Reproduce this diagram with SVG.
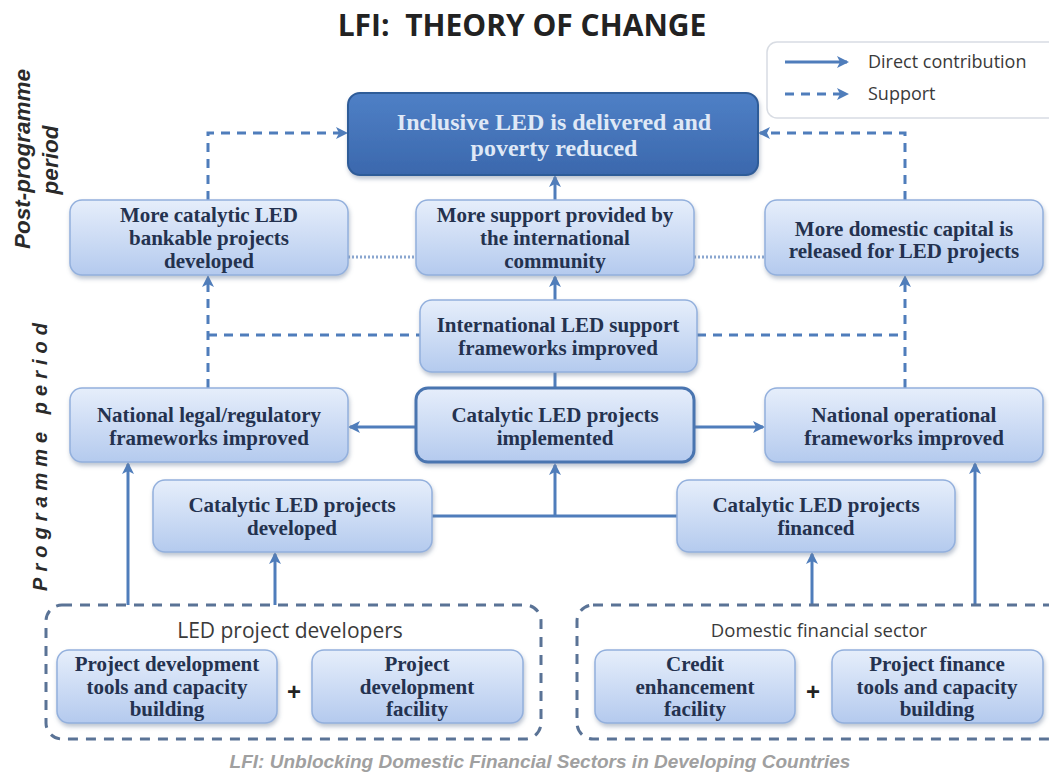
<svg xmlns="http://www.w3.org/2000/svg" width="1049" height="776" viewBox="0 0 1049 776">
<defs>
<linearGradient id="gLight" x1="0" y1="0" x2="0" y2="1">
<stop offset="0" stop-color="#e6eefb"/>
<stop offset="1" stop-color="#b4caee"/>
</linearGradient>
<linearGradient id="gDark" x1="0" y1="0" x2="0" y2="1">
<stop offset="0" stop-color="#4f80c6"/>
<stop offset="1" stop-color="#3b68ad"/>
</linearGradient>
<filter id="sh" x="-10%" y="-10%" width="120%" height="130%">
<feDropShadow dx="1" dy="3" stdDeviation="2" flood-color="#6c7f99" flood-opacity="0.45"/>
</filter>
<marker id="ah" markerWidth="12" markerHeight="12" refX="10" refY="6" orient="auto" markerUnits="userSpaceOnUse">
<path d="M0,0 L12,6 L0,12 L3,6 z" fill="#4f7dbb"/>
</marker>
</defs>
<style>
.node{fill:url(#gLight);stroke:#93b0dd;stroke-width:1.5;filter:url(#sh)}
.t{font-family:"Liberation Serif","DejaVu Serif",serif;font-weight:bold;font-size:21px;fill:#24324f;text-anchor:middle}
.solid{fill:none;stroke:#4f7dbb;stroke-width:3}
.dash{fill:none;stroke:#4f7dbb;stroke-width:3;stroke-dasharray:9 7}
.dot{fill:none;stroke:#8aa6cf;stroke-width:3;stroke-dasharray:2 2}
.grp{fill:none;stroke:#5a7396;stroke-width:3;stroke-dasharray:10 8}
.sans{font-family:"Open Sans","Liberation Sans",sans-serif;fill:#3a3a3a;text-anchor:middle}
.side{font-family:"Liberation Sans","DejaVu Sans",sans-serif;font-weight:bold;font-style:italic;fill:#2a2a2a;text-anchor:middle}
.plus{font-family:"Liberation Sans",sans-serif;font-weight:bold;font-size:24px;fill:#222;text-anchor:middle}
</style>
<rect width="1049" height="776" fill="#ffffff"/>

<text x="522" y="36" font-family="Open Sans,Liberation Sans,sans-serif" font-weight="bold" font-size="30" fill="#222" text-anchor="middle">LFI:&#160; THEORY OF CHANGE</text>

<g id="legend">
<rect x="767" y="42" width="300" height="76" rx="10" fill="#fff" stroke="#d8dce3" stroke-width="1.5"/>
<line x1="785" y1="62" x2="847" y2="62" class="solid" marker-end="url(#ah)"/>
<line x1="785" y1="94" x2="847" y2="94" class="dash" stroke-dasharray="8 6" marker-end="url(#ah)"/>
<text x="868" y="68" class="sans" font-size="18" style="text-anchor:start">Direct contribution</text>
<text x="868" y="100" class="sans" font-size="18" style="text-anchor:start">Support</text>
</g>

<g id="side-labels">
<text class="side" font-size="22.5" transform="translate(30,159) rotate(-90)">Post-programme</text>
<text class="side" font-size="22.5" transform="translate(58,160) rotate(-90)">period</text>
<text class="side" font-size="20" letter-spacing="6" transform="translate(47,454) rotate(-90)">Programme period</text>
</g>

<g id="connectors">
<line x1="348" y1="257" x2="416" y2="257" class="dot"/>
<line x1="694" y1="257" x2="765" y2="257" class="dot"/>
<path d="M208,200 V133 H346" class="dash" marker-end="url(#ah)"/>
<path d="M905,200 V133 H760" class="dash" marker-end="url(#ah)"/>
<line x1="555" y1="200" x2="555" y2="177" class="solid" stroke-width="2" marker-end="url(#ah)"/>
<line x1="208" y1="388" x2="208" y2="277" class="dash" marker-end="url(#ah)"/>
<line x1="905" y1="388" x2="905" y2="277" class="dash" marker-end="url(#ah)"/>
<line x1="208" y1="335" x2="420" y2="335" class="dash"/>
<line x1="697" y1="335" x2="905" y2="335" class="dash"/>
<line x1="555" y1="300" x2="555" y2="277" class="solid" stroke-width="2" marker-end="url(#ah)"/>
<line x1="555" y1="388" x2="555" y2="372" class="solid" stroke-width="2"/>
<line x1="416" y1="427" x2="350" y2="427" class="solid" marker-end="url(#ah)"/>
<line x1="694" y1="427" x2="763" y2="427" class="solid" marker-end="url(#ah)"/>
<line x1="432" y1="516" x2="677" y2="516" class="solid"/>
<line x1="555" y1="516" x2="555" y2="465" class="solid" marker-end="url(#ah)"/>
<line x1="128" y1="605" x2="128" y2="464" class="solid" marker-end="url(#ah)"/>
<line x1="275" y1="605" x2="275" y2="554" class="solid" marker-end="url(#ah)"/>
<line x1="812" y1="605" x2="812" y2="554" class="solid" marker-end="url(#ah)"/>
<line x1="975" y1="605" x2="975" y2="464" class="solid" marker-end="url(#ah)"/>
</g>

<g id="goal">
<rect x="348" y="93" width="410" height="82" rx="12" fill="url(#gDark)" stroke="#2f5b98" stroke-width="2" filter="url(#sh)"/>
<text x="554" y="130" class="t" style="fill:#dfe8f6;font-size:24px">Inclusive LED is delivered and</text>
<text x="554" y="156" class="t" style="fill:#dfe8f6;font-size:24px">poverty reduced</text>
</g>

<g id="more-bankable">
<rect x="70" y="200" width="278" height="75" rx="12" class="node"/>
<text x="209" y="222" class="t">More catalytic LED</text>
<text x="209" y="245" class="t">bankable projects</text>
<text x="209" y="268" class="t">developed</text>
</g>
<g id="more-support">
<rect x="416" y="200" width="278" height="75" rx="12" class="node"/>
<text x="555" y="222" class="t">More support provided by</text>
<text x="555" y="245" class="t">the international</text>
<text x="555" y="268" class="t">community</text>
</g>
<g id="more-capital">
<rect x="765" y="200" width="278" height="75" rx="12" class="node"/>
<text x="904" y="236" class="t">More domestic capital is</text>
<text x="904" y="258" class="t">released for LED projects</text>
</g>

<g id="intl-frameworks">
<rect x="420" y="300" width="277" height="72" rx="12" class="node"/>
<text x="558" y="332" class="t">International LED support</text>
<text x="558" y="355" class="t">frameworks  improved</text>
</g>

<g id="national-legal">
<rect x="70" y="388" width="278" height="74" rx="12" class="node"/>
<text x="209" y="422" class="t">National legal/regulatory</text>
<text x="209" y="445" class="t">frameworks  improved</text>
</g>
<g id="implemented">
<rect x="416" y="388" width="278" height="74" rx="12" class="node" style="stroke:#4a74b0;stroke-width:3"/>
<text x="555" y="422" class="t">Catalytic LED projects</text>
<text x="555" y="445" class="t">implemented</text>
</g>
<g id="national-operational">
<rect x="765" y="388" width="278" height="74" rx="12" class="node"/>
<text x="904" y="422" class="t">National operational</text>
<text x="904" y="445" class="t">frameworks  improved</text>
</g>

<g id="developed">
<rect x="153" y="480" width="279" height="72" rx="12" class="node"/>
<text x="292" y="512" class="t">Catalytic LED projects</text>
<text x="292" y="535" class="t">developed</text>
</g>
<g id="financed">
<rect x="677" y="480" width="278" height="72" rx="12" class="node"/>
<text x="816" y="512" class="t">Catalytic LED projects</text>
<text x="816" y="535" class="t">financed</text>
</g>

<g id="led-developers">
<rect x="46" y="605" width="495" height="134" rx="16" class="grp"/>
<text x="290" y="638" class="sans" font-size="21">LED project developers</text>
<g id="pd-tools">
<rect x="57" y="650" width="220" height="73" rx="12" class="node"/>
<text x="167" y="671" class="t">Project development</text>
<text x="167" y="694" class="t">tools and capacity</text>
<text x="167" y="716" class="t">building</text>
</g>
<text x="294" y="700" class="plus">+</text>
<g id="pd-facility">
<rect x="312" y="650" width="211" height="73" rx="12" class="node"/>
<text x="417" y="671" class="t">Project</text>
<text x="417" y="694" class="t">development</text>
<text x="417" y="716" class="t">facility</text>
</g>
</g>

<g id="domestic-financial">
<rect x="577" y="605" width="490" height="134" rx="16" class="grp"/>
<text x="819" y="637" class="sans" font-size="18.5">Domestic financial sector</text>
<g id="credit">
<rect x="595" y="650" width="200" height="73" rx="12" class="node"/>
<text x="695" y="671" class="t">Credit</text>
<text x="695" y="694" class="t">enhancement</text>
<text x="695" y="716" class="t">facility</text>
</g>
<text x="813" y="700" class="plus">+</text>
<g id="pf-tools">
<rect x="832" y="650" width="211" height="73" rx="12" class="node"/>
<text x="937" y="671" class="t">Project finance</text>
<text x="937" y="694" class="t">tools and capacity</text>
<text x="937" y="716" class="t">building</text>
</g>
</g>

<text x="540" y="768" font-family="Liberation Sans,Arial,sans-serif" font-style="italic" font-weight="bold" font-size="19" fill="#a0a0a0" text-anchor="middle">LFI: Unblocking Domestic Financial Sectors in Developing Countries</text>
</svg>
